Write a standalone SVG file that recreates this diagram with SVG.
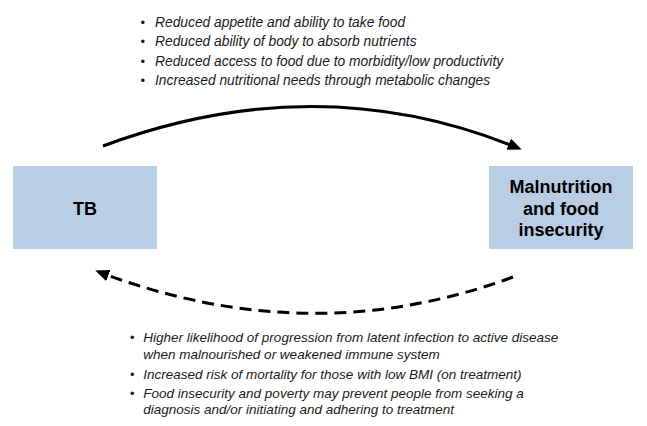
<svg xmlns="http://www.w3.org/2000/svg" width="647" height="426" viewBox="0 0 647 426">
  <style>
    .box { fill: #b9cde5; }
    .label { font-family: "Liberation Sans", Arial, sans-serif; font-weight: bold; font-size: 18px; fill: #000; text-anchor: middle; }
    .bul { font-family: "Liberation Sans", Arial, sans-serif; font-style: italic; fill: #1a1a1a; }
    .top { font-size: 13.8px; }
    .bot { font-size: 13.5px; }
    .dot { font-family: "Liberation Sans", Arial, sans-serif; font-size: 13px; fill: #1a1a1a; }
    .conn { fill: none; stroke: #000; stroke-width: 3; }
    .dashed { stroke-dasharray: 12 7; }
  </style>
  <defs>
    <marker id="arrow" markerUnits="userSpaceOnUse" markerWidth="16" markerHeight="14" refX="10" refY="6" orient="auto">
      <path d="M0,0 L14,6 L0,12 z" fill="#000" stroke="none"/>
    </marker>
  </defs>
  <rect width="647" height="426" fill="#fff"/>

  <g id="connectors">
    <path class="conn" d="M103,146 Q318,66 518,148" marker-end="url(#arrow)"/>
    <path class="conn dashed" d="M513,277 Q310,352 99,272" marker-end="url(#arrow)"/>
  </g>

  <g id="node-tb">
    <rect class="box" x="13" y="166" width="144" height="83"/>
    <text class="label" x="85" y="215">TB</text>
  </g>

  <g id="node-malnutrition">
    <rect class="box" x="489" y="166" width="144" height="83"/>
    <text class="label" x="561" y="193">Malnutrition</text>
    <text class="label" x="561" y="214.5">and food</text>
    <text class="label" x="561" y="236">insecurity</text>
  </g>

  <g id="top-notes">
    <text class="dot" x="140.5" y="26.7">•</text>
    <text class="bul top" x="155" y="26.7">Reduced appetite and ability to take food</text>
    <text class="dot" x="140.5" y="46.2">•</text>
    <text class="bul top" x="155" y="46.2">Reduced ability of body to absorb nutrients</text>
    <text class="dot" x="140.5" y="65.6">•</text>
    <text class="bul top" x="155" y="65.6">Reduced access to food due to morbidity/low productivity</text>
    <text class="dot" x="140.5" y="85">•</text>
    <text class="bul top" x="155" y="85">Increased nutritional needs through metabolic changes</text>
  </g>

  <g id="bottom-notes">
    <text class="dot" x="130" y="342.3">•</text>
    <text class="bul bot" x="143.3" y="342.3">Higher likelihood of progression from latent infection to active disease</text>
    <text class="bul bot" x="143.3" y="359.3">when malnourished or weakened immune system</text>
    <text class="dot" x="130" y="378.8">•</text>
    <text class="bul bot" x="143.3" y="378.8">Increased risk of mortality for those with low BMI (on treatment)</text>
    <text class="dot" x="130" y="397.7">•</text>
    <text class="bul bot" x="143.3" y="397.7">Food insecurity and poverty may prevent people from seeking a</text>
    <text class="bul bot" x="143.3" y="414.3">diagnosis and/or initiating and adhering to treatment</text>
  </g>
</svg>
